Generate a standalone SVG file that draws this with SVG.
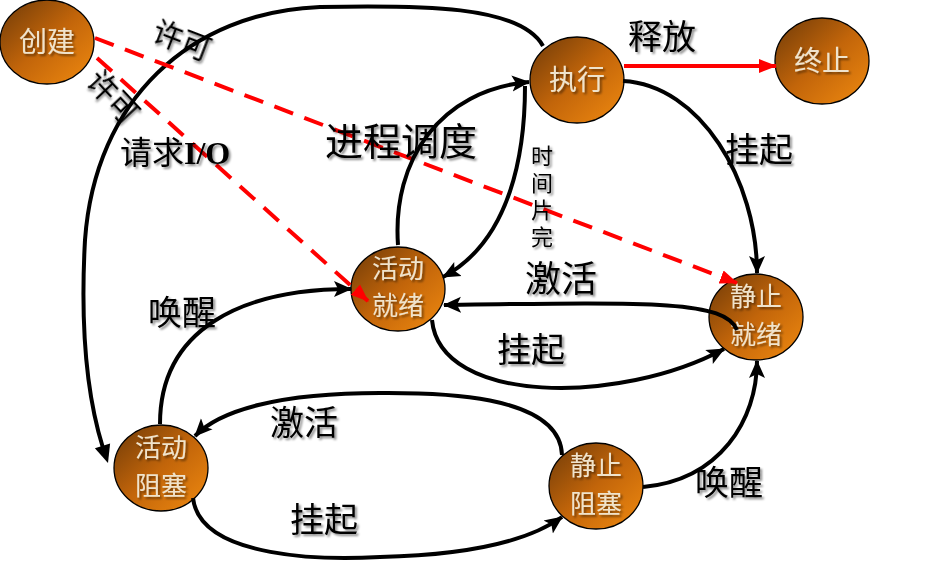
<svg xmlns="http://www.w3.org/2000/svg" width="946" height="563" viewBox="0 0 946 563">
<defs>
<linearGradient id="g" x1="0" y1="0" x2="1" y2="1">
<stop offset="0" stop-color="#6e3a08"/>
<stop offset="0.5" stop-color="#c2650a"/>
<stop offset="1" stop-color="#f08a10"/>
</linearGradient>
<filter id="sh" x="-20%" y="-20%" width="140%" height="140%">
<feDropShadow dx="2" dy="2" stdDeviation="1.2" flood-color="#000" flood-opacity="0.45"/>
</filter>
<marker id="ab" markerUnits="userSpaceOnUse" markerWidth="20" markerHeight="18" refX="17" refY="9" orient="auto">
<path d="M0,1 L18,9 L0,17 L4,9 Z" fill="#000"/>
</marker>
<marker id="ar" markerUnits="userSpaceOnUse" markerWidth="20" markerHeight="18" refX="17" refY="9" orient="auto">
<path d="M0,2 L18,9 L0,16 Z" fill="#f00"/>
</marker>
</defs>
<style>
.n{fill:url(#g);stroke:#000;stroke-width:1.3}
.nt{font-family:"Noto Sans CJK SC",sans-serif;font-size:26px;fill:#efe3cc;text-anchor:middle;filter:url(#sh)}
.c{fill:none;stroke:#000;stroke-width:4}
.r{fill:none;stroke:#f00;stroke-width:4}
.d{stroke-dasharray:20 12}
.l{font-family:"Noto Sans CJK SC",sans-serif;font-size:34px;fill:#000;filter:url(#sh)}
</style>
<rect width="946" height="563" fill="#fff"/>
<g id="n-create"><ellipse class="n" cx="47" cy="42" rx="47" ry="42"/><text class="nt" x="47" y="52" style="font-size:28px">创建</text></g>
<g id="n-run"><ellipse class="n" cx="577" cy="80" rx="47" ry="43"/><text class="nt" x="577" y="90" style="font-size:28px">执行</text></g>
<g id="n-end"><ellipse class="n" cx="822" cy="61" rx="47" ry="43"/><text class="nt" x="822" y="71" style="font-size:28px">终止</text></g>
<g id="n-active-ready"><ellipse class="n" cx="398" cy="289" rx="47" ry="42"/><text class="nt" x="398" y="278">活动</text><text class="nt" x="398" y="315">就绪</text></g>
<g id="n-static-ready"><ellipse class="n" cx="756" cy="317" rx="47" ry="43"/><text class="nt" x="756" y="306">静止</text><text class="nt" x="756" y="344">就绪</text></g>
<g id="n-active-block"><ellipse class="n" cx="161" cy="468" rx="47" ry="43"/><text class="nt" x="161" y="457">活动</text><text class="nt" x="161" y="495">阻塞</text></g>
<g id="n-static-block"><ellipse class="n" cx="596" cy="486" rx="47" ry="43"/><text class="nt" x="596" y="475">静止</text><text class="nt" x="596" y="513">阻塞</text></g>
<g id="connectors">
<path class="c" d="M543,46 C520,5 420,5 320,7 C190,12 95,100 85,240 C80,330 88,400 103,448"/>
<polygon points="108,463 94.9,448.2 110.1,443.4" fill="#000"/>
<path class="r d" marker-end="url(#ar)" d="M95,38 L737,283"/>
<path class="r d" marker-end="url(#ar)" d="M97,58 L368,301"/>
<path class="c" marker-end="url(#ab)" d="M398,245 C392,160 440,90 529,82"/>
<path class="c" marker-end="url(#ab)" d="M525,86 C525,150 512,240 443,277"/>
<path class="c" marker-end="url(#ab)" d="M623,81 C700,85 757,180 757,273"/>
<path class="r" marker-end="url(#ar)" d="M624,66 L776,66"/>
<path class="c" marker-end="url(#ab)" d="M737,330 C725,300 650,302 444,305"/>
<path class="c" marker-end="url(#ab)" d="M432,320 C440,405 620,405 724,349"/>
<path class="c" marker-end="url(#ab)" d="M160,424 C160,330 240,289 351,289"/>
<path class="c" marker-end="url(#ab)" d="M562,455 C560,390 420,393 380,393 C280,393 220,410 195,436"/>
<path class="c" marker-end="url(#ab)" d="M193,498 C200,560 330,560 380,557 C470,555 530,540 562,517"/>
<path class="c" marker-end="url(#ab)" d="M643,487 C720,480 757,420 757,361"/>
</g>
<g id="labels">
<text class="l" transform="translate(183,38) rotate(21)" text-anchor="middle" dominant-baseline="central" style="font-size:30px">许可</text>
<text class="l" transform="translate(115,95) rotate(47)" text-anchor="middle" dominant-baseline="central" style="font-size:30px">许可</text>
<text class="l" x="120" y="164" style="font-size:32px">请求<tspan font-family="Liberation Serif" font-weight="bold">I/O</tspan></text>
<text class="l" x="325" y="155" style="font-size:38px">进程调度</text>
<text class="l" x="628" y="49">释放</text>
<text class="l" x="725" y="162">挂起</text>
<text class="l" x="542" y="145" style="font-size:22px;writing-mode:vertical-rl;letter-spacing:5px">时间片完</text>
<text class="l" x="525" y="292" style="font-size:36px">激活</text>
<text class="l" x="497" y="362">挂起</text>
<text class="l" x="148" y="325">唤醒</text>
<text class="l" x="270" y="435">激活</text>
<text class="l" x="290" y="532">挂起</text>
<text class="l" x="695" y="495">唤醒</text>
</g>
</svg>
